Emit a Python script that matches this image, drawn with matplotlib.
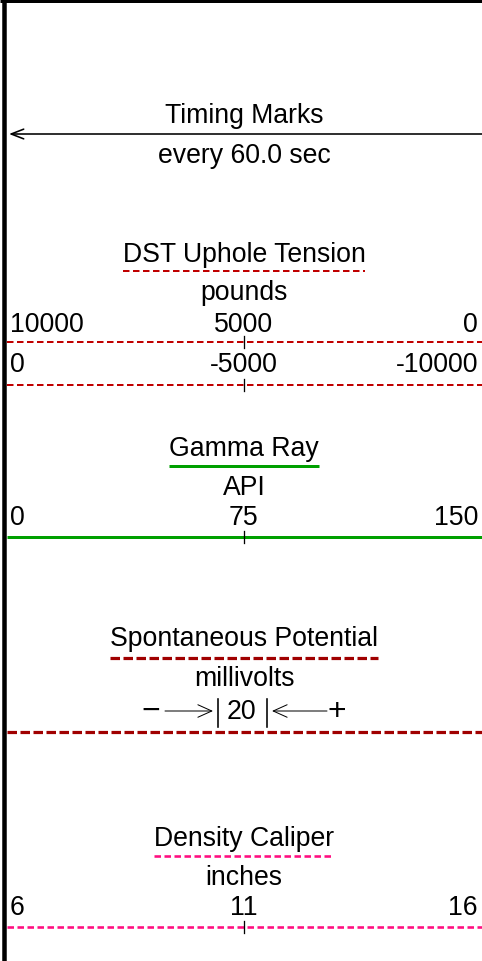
import matplotlib
matplotlib.use("Agg")
import matplotlib.pyplot as plt

plt.rcParams['font.family'] = ['Liberation Sans', 'DejaVu Sans']
plt.rcParams['lines.scale_dashes'] = False

# ---- data ----
timing_title = "Timing Marks"
timing_interval = 60.0

track_titles = ["DST Uphole Tension", "Gamma Ray", "Spontaneous Potential", "Density Caliper"]
track_units = ["pounds", "API", "millivolts", "inches"]
track_colors = ["#C00000", "#00A000", "#A00000", "#FF0F80"]

dst_scales = [(10000, 0), (0, -10000)]
gamma_scale = (0, 150)
sp_scale = 20
caliper_scale = (6, 16)

# ---- layout ----
W, H = 482, 961
fig = plt.figure(figsize=(W / 100, H / 100), dpi=100)
ax = fig.add_axes([0, 0, 1, 1])
ax.set_xlim(0, W)
ax.set_ylim(H, 0)
ax.axis('off')

FS = 19.2
XL, XM, XR = 10, 244, 478
PX = 0.72  # points per pixel

def px(v):
    return v * PX

# borders
ax.plot([4, 4], [0, H], color='black', lw=px(4.5), solid_capstyle='butt')
ax.plot([0, W], [1.2, 1.2], color='black', lw=px(3), solid_capstyle='butt')

def ctext(x, y, s, ha='center', fs=FS):
    return ax.text(x, y, s, ha=ha, va='baseline', fontsize=fs, color='black')

# Timing marks
ctext(XM, 123, timing_title)
ax.annotate('', xy=(9, 134), xytext=(W, 134),
            arrowprops=dict(arrowstyle='->,head_length=0.9,head_width=0.35',
                            lw=px(1.6), color='black', shrinkA=0, shrinkB=0))
ctext(XM, 163, f"every {timing_interval:.1f} sec")

styles = [
    dict(lw=px(2), ls=(0, (px(6.5), px(3.5)))),
    dict(lw=px(3), ls='-'),
    dict(lw=px(3.2), ls=(0, (px(9.5), px(3.5)))),
    dict(lw=px(2.6), ls=(0, (px(6.5), px(3.5)))),
]
title_base = [261.5, 456, 646.5, 846.5]
underline_y = [270.7, 465.7, 657.7, 855.7]
unit_base = [299.5, 495, 686.5, 885]

def hline(y, st, color, x0=7, x1=W):
    ax.plot([x0, x1], [y, y], color=color, lw=st['lw'], linestyle=st['ls'],
            solid_capstyle='butt', dash_capstyle='butt')

def tick(y):
    ax.plot([XM, XM], [y - 6, y + 6], color='black', lw=px(1.3))

title_objs = []
for i in range(4):
    title_objs.append(ctext(XM, title_base[i], track_titles[i]))
    ctext(XM, unit_base[i], track_units[i])

def scale_row(y_text, y_line, lo, hi, st, color):
    mid = (lo + hi) / 2
    fmt = lambda v: f"{v:g}" if v != int(v) else f"{int(v)}"
    ctext(XL, y_text, fmt(lo), ha='left')
    ctext(XM, y_text, fmt(mid))
    ctext(XR, y_text, fmt(hi), ha='right')
    hline(y_line, st, color)
    tick(y_line)

scale_row(331.5, 341.7, dst_scales[0][0], dst_scales[0][1], styles[0], track_colors[0])
scale_row(371.5, 385.3, dst_scales[1][0], dst_scales[1][1], styles[0], track_colors[0])
scale_row(525, 537.3, gamma_scale[0], gamma_scale[1], styles[1], track_colors[1])
scale_row(915, 927.3, caliper_scale[0], caliper_scale[1], styles[3], track_colors[3])

# SP scale
yb = 719
ctext(151, yb + 1, "\u2212", fs=23)
ctext(337, yb + 1, "+", fs=23)
ctext(XM - 3, yb, f"{sp_scale}")
ax.plot([218, 218], [699, 727], color='black', lw=px(1.6))
ax.plot([267, 267], [699, 727], color='black', lw=px(1.6))
ap = dict(arrowstyle='->,head_length=1.0,head_width=0.45', lw=px(1.0), color='black',
          shrinkA=0, shrinkB=0)
ax.annotate('', xy=(213, 711), xytext=(165, 711), arrowprops=ap)
ax.annotate('', xy=(272, 711), xytext=(327, 711), arrowprops=ap)
hline(732.3, styles[2], track_colors[2])

# underlines from title widths
fig.canvas.draw()
r = fig.canvas.get_renderer()
inv = ax.transData.inverted()
for i, t in enumerate(title_objs):
    bb = t.get_window_extent(renderer=r)
    (x0, _), (x1, _) = inv.transform([(bb.x0, bb.y0), (bb.x1, bb.y1)])
    hline(underline_y[i], styles[i], track_colors[i], x0, x1)

fig.savefig("out.png", dpi=100, facecolor='white')
